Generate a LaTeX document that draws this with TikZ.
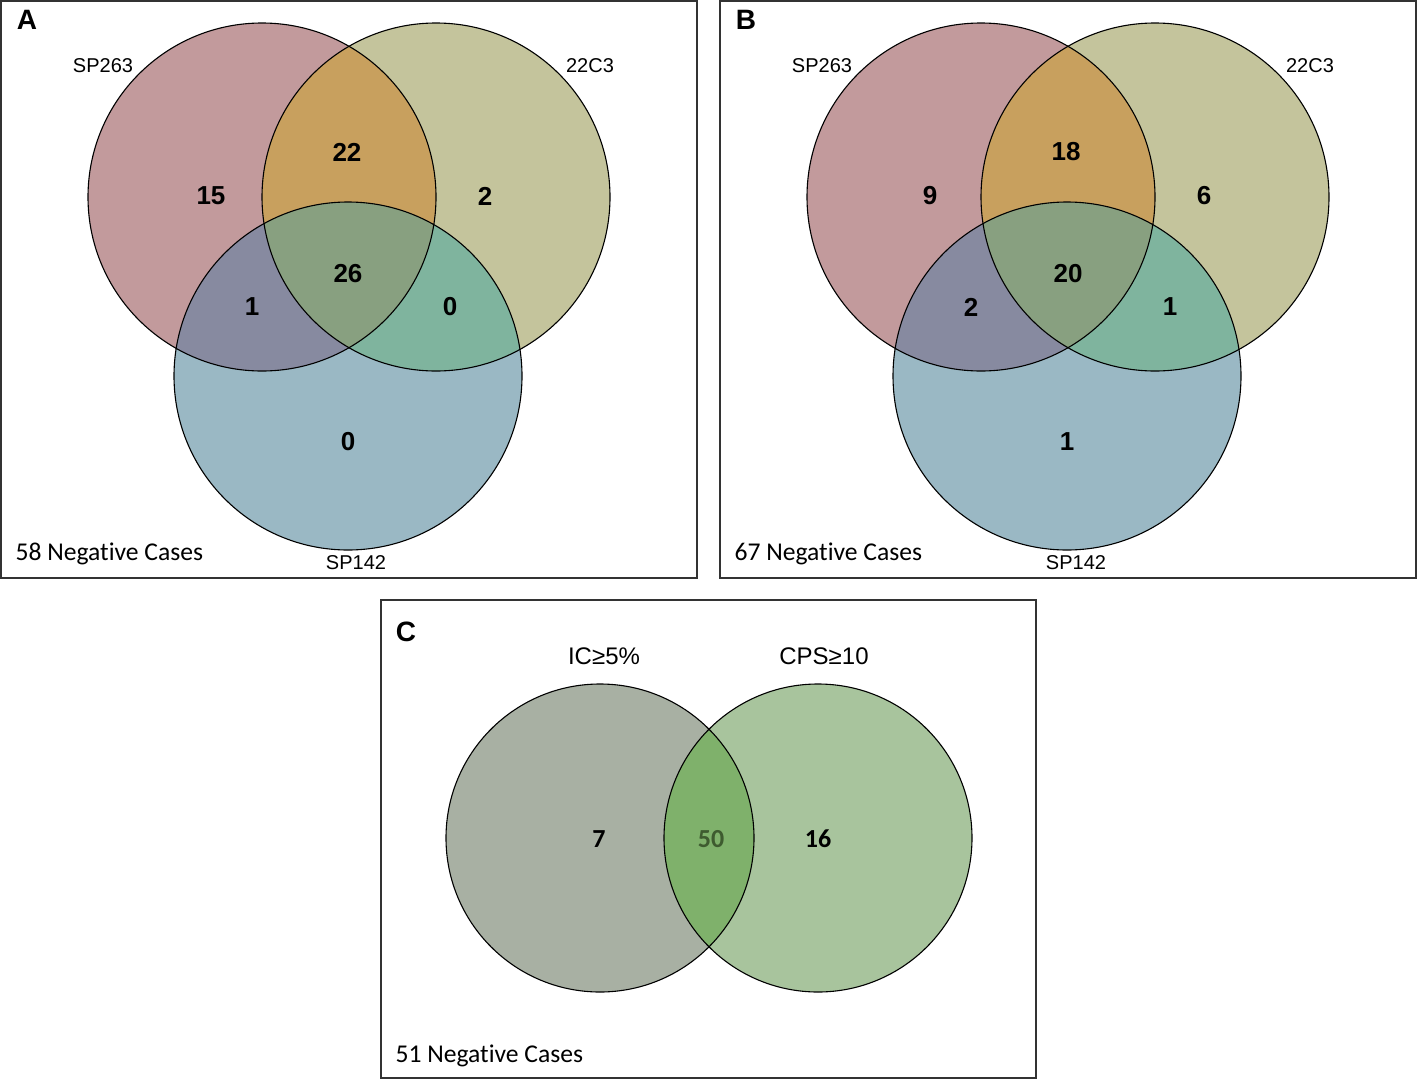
\documentclass[tikz,border=0pt]{standalone}
\usepackage{fontspec}
\usetikzlibrary{calc}
\newfontfamily\arialf{Liberation Sans}
\newfontfamily\calif[Ligatures=NoCommon]{Carlito}

\definecolor{pinkc}{HTML}{C29A9C}
\definecolor{olivec}{HTML}{C4C49C}
\definecolor{bluec}{HTML}{9AB8C4}
\definecolor{orangec}{HTML}{C8A05E}
\definecolor{mauvec}{HTML}{878AA0}
\definecolor{tealc}{HTML}{7FB49E}
\definecolor{midc}{HTML}{88A080}
\definecolor{grayc}{HTML}{A8B0A3}
\definecolor{greenc}{HTML}{A8C49D}
\definecolor{lensc}{HTML}{7FB16B}
\definecolor{fiftyc}{HTML}{3E5B2F}
\definecolor{framec}{HTML}{333333}

\tikzset{
  panel/.style={draw=framec, line width=1.5pt},
  rim/.style={draw=black, line width=1.1pt},
  count/.style={font=\arialf\bfseries\fontsize{26}{30}\selectfont},
  ccount/.style={font=\calif\bfseries\fontsize{26}{30}\selectfont},
  setname/.style={font=\arialf\fontsize{20}{24}\selectfont},
  bigname/.style={font=\arialf\fontsize{24}{28}\selectfont},
  letter/.style={font=\arialf\bfseries\fontsize{28}{32}\selectfont},
  cases/.style={font=\calif\fontsize{25.6}{30}\selectfont, anchor=west}
}

\begin{document}
\begin{tikzpicture}[x=1pt, y=-1pt]
    \useasboundingbox (0,0) rectangle (1417,1079);

    % panel A
    \draw[panel] (1,1) rectangle (697,578);
    \fill[pinkc] (262,197) circle (174pt);
    \fill[olivec] (436,197) circle (174pt);
    \fill[bluec] (348,376) circle (174pt);
    \begin{scope}
        \clip (262,197) circle (174pt);
        \fill[orangec] (436,197) circle (174pt);
        \fill[mauvec] (348,376) circle (174pt);
    \end{scope}
    \begin{scope}
        \clip (436,197) circle (174pt);
        \fill[tealc] (348,376) circle (174pt);
        \clip (262,197) circle (174pt);
        \fill[midc] (348,376) circle (174pt);
    \end{scope}
    \draw[rim] (262,197) circle (174pt);
    \draw[rim] (436,197) circle (174pt);
    \draw[rim] (348,376) circle (174pt);
    \node[letter] (labA) at (27,20) {A};
    \node[setname] (sp263A) at (103,66) {SP263};
    \node[setname] (c22A) at (590,66) {22C3};
    \node[setname] (sp142A) at (356,563) {SP142};
    \node[count] (a15) at (211,196) {15};
    \node[count] (a22) at (347,152) {22};
    \node[count] (a2) at (485,196) {2};
    \node[count] (a26) at (348,274) {26};
    \node[count] (a1) at (252,307) {1};
    \node[count] (a0r) at (450,307) {0};
    \node[count] (a0b) at (348,442) {0};
    \node[cases] (negA) at (12,554) {58 Negative Cases};

    % panel B
    \begin{scope}[xshift=719pt]
    \draw[panel] (1,1) rectangle (697,578);
    \fill[pinkc] (262,197) circle (174pt);
    \fill[olivec] (436,197) circle (174pt);
    \fill[bluec] (348,376) circle (174pt);
    \begin{scope}
        \clip (262,197) circle (174pt);
        \fill[orangec] (436,197) circle (174pt);
        \fill[mauvec] (348,376) circle (174pt);
    \end{scope}
    \begin{scope}
        \clip (436,197) circle (174pt);
        \fill[tealc] (348,376) circle (174pt);
        \clip (262,197) circle (174pt);
        \fill[midc] (348,376) circle (174pt);
    \end{scope}
    \draw[rim] (262,197) circle (174pt);
    \draw[rim] (436,197) circle (174pt);
    \draw[rim] (348,376) circle (174pt);
    \node[letter] (labB) at (27,20) {B};
    \node[setname] (sp263B) at (103,66) {SP263};
    \node[setname] (c22B) at (591,66) {22C3};
    \node[setname] (sp142B) at (357,563) {SP142};
    \node[count] (b9) at (211,196) {9};
    \node[count] (b18) at (347,152) {18};
    \node[count] (b6) at (485,196) {6};
    \node[count] (b20) at (349,274) {20};
    \node[count] (b2) at (252,307) {2};
    \node[count] (b1r) at (451,307) {1};
    \node[count] (b1b) at (348,442) {1};
    \node[cases] (negB) at (12,554) {67 Negative Cases};
    \end{scope}

    % panel C
    \draw[panel] (381,600) rectangle (1036,1078);
    \fill[grayc] (600,838) circle (154pt);
    \fill[greenc] (818,838) circle (154pt);
    \begin{scope}
        \clip (600,838) circle (154pt);
        \fill[lensc] (818,838) circle (154pt);
    \end{scope}
    \draw[rim] (600,838) circle (154pt);
    \draw[rim] (818,838) circle (154pt);
    \node[letter] (labC) at (406,632) {C};
    \node[bigname] (icC) at (604,656) {IC≥5\%};
    \node[bigname] (cpsC) at (824,656) {CPS≥10};
    \node[ccount] (c7) at (599,839) {7};
    \node[ccount, text=fiftyc] (c50) at (711,839) {50};
    \node[ccount] (c16) at (818,839) {16};
    \node[cases] (negC) at (392,1056) {51 Negative Cases};
\end{tikzpicture}
\end{document}
